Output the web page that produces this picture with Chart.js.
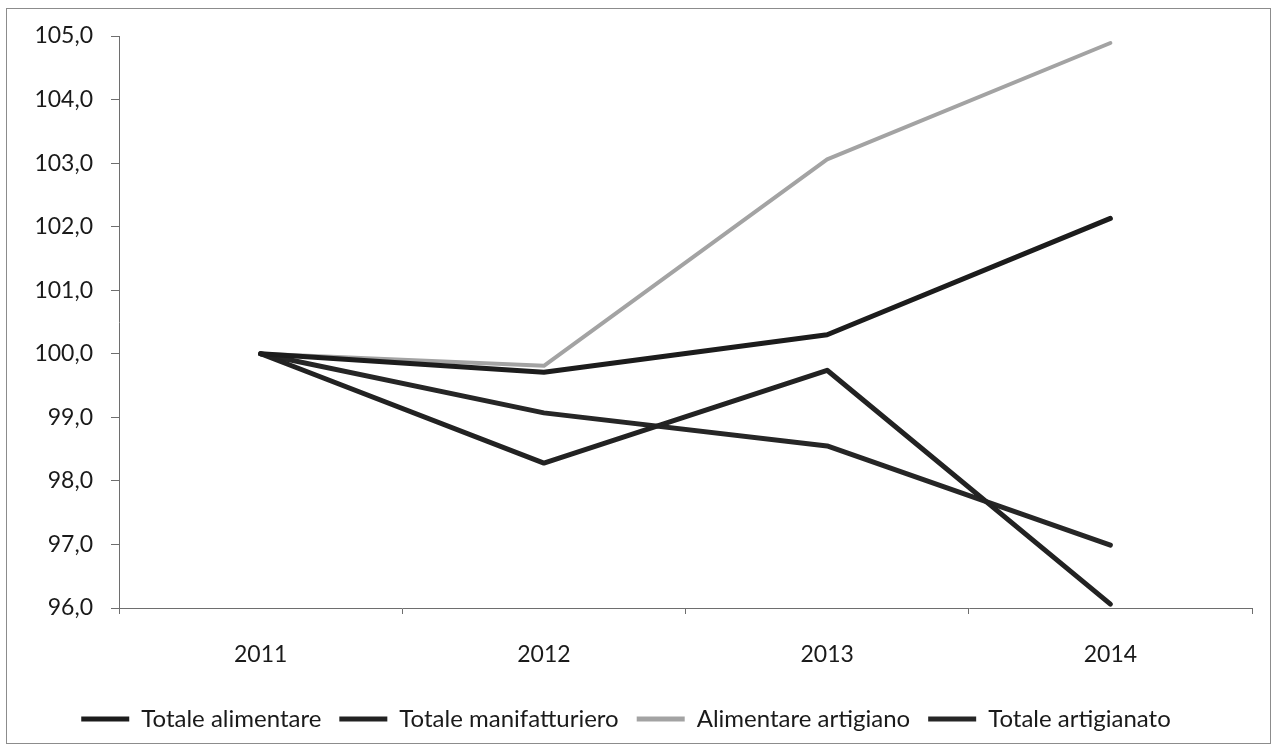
<!DOCTYPE html>
<html>
<head>
<meta charset="utf-8">
<script src="https://cdn.jsdelivr.net/npm/chart.js@4.4.1/dist/chart.umd.min.js"></script>
<style>
  html, body { margin: 0; padding: 0; background: #ffffff; }
  #wrap { position: relative; width: 1279px; height: 753px; }
  #frame { position: absolute; left: 6px; top: 8px; width: 1265px; height: 736px; border: 1px solid #8c8c8c; box-sizing: border-box; }
  #c { position: absolute; left: 0; top: 0; }
</style>
</head>
<body>
<div id="wrap">
  <div id="frame"></div>
  <canvas id="c" width="1279" height="753"></canvas>
</div>
<script>
// Indici 2011 = 100
const years = ['2011', '2012', '2013', '2014'];
const totaleAlimentare = [100.0, 99.71, 100.30, 102.13];
const totaleManifatturiero = [100.0, 98.28, 99.74, 96.06];
const alimentareArtigiano = [100.0, 99.81, 103.06, 104.89];
const totaleArtigianato = [100.0, 99.07, 98.55, 96.99];
const yMin = 96;
const yMax = 105;
const yStep = 1;

const FONT = 'Lato, "Open Sans", sans-serif';
const TEXT = '#1a1a1a';
const AXIS = '#6e6e6e';

function series(label, data, color, width) {
  return {
    label, data,
    borderColor: color,
    backgroundColor: color,
    borderWidth: width,
    pointRadius: 0,
    pointHoverRadius: 0,
    tension: 0,
    borderCapStyle: 'round',
    borderJoinStyle: 'round',
    fill: false
  };
}

new Chart(document.getElementById('c'), {
  type: 'line',
  data: {
    labels: years,
    datasets: [
      series('Totale alimentare', totaleAlimentare, '#1c1c1c', 5),
      series('Totale manifatturiero', totaleManifatturiero, '#222222', 5),
      series('Alimentare artigiano', alimentareArtigiano, '#a3a3a3', 4),
      series('Totale artigianato', totaleArtigianato, '#262626', 5)
    ]
  },
  options: {
    responsive: false,
    animation: false,
    devicePixelRatio: 1,
    layout: { padding: { left: 0, top: 36, right: 27, bottom: 12 } },
    plugins: {
      tooltip: { enabled: false },
      legend: {
        position: 'bottom',
        labels: {
          font: { family: FONT, size: 24 },
          color: TEXT,
          boxWidth: 48,
          boxHeight: 5,
          padding: 18,
          generateLabels(chart) {
            return chart.data.datasets.map((ds, i) => ({
              text: ds.label,
              fillStyle: ds.borderColor,
              strokeStyle: ds.borderColor,
              lineWidth: 0,
              fontColor: TEXT,
              hidden: false,
              datasetIndex: i
            }));
          }
        }
      }
    },
    scales: {
      x: {
        offset: true,
        grid: { offset: true, drawOnChartArea: false, drawTicks: true, tickLength: 6, color: AXIS },
        border: { color: AXIS, width: 1 },
        ticks: { font: { family: FONT, size: 23 }, color: TEXT, padding: 27, maxRotation: 0 },
        afterFit(scale) { scale.height = 81; }
      },
      y: {
        min: yMin,
        max: yMax,
        grid: { drawOnChartArea: false, drawTicks: true, tickLength: 8, color: AXIS },
        border: { color: AXIS, width: 1 },
        ticks: {
          stepSize: yStep,
          font: { family: FONT, size: 23 },
          color: TEXT,
          padding: 18,
          callback: v => v.toFixed(1).replace('.', ',')
        },
        afterFit(scale) { scale.width = 119; }
      }
    }
  }
});
</script>
</body>
</html>
